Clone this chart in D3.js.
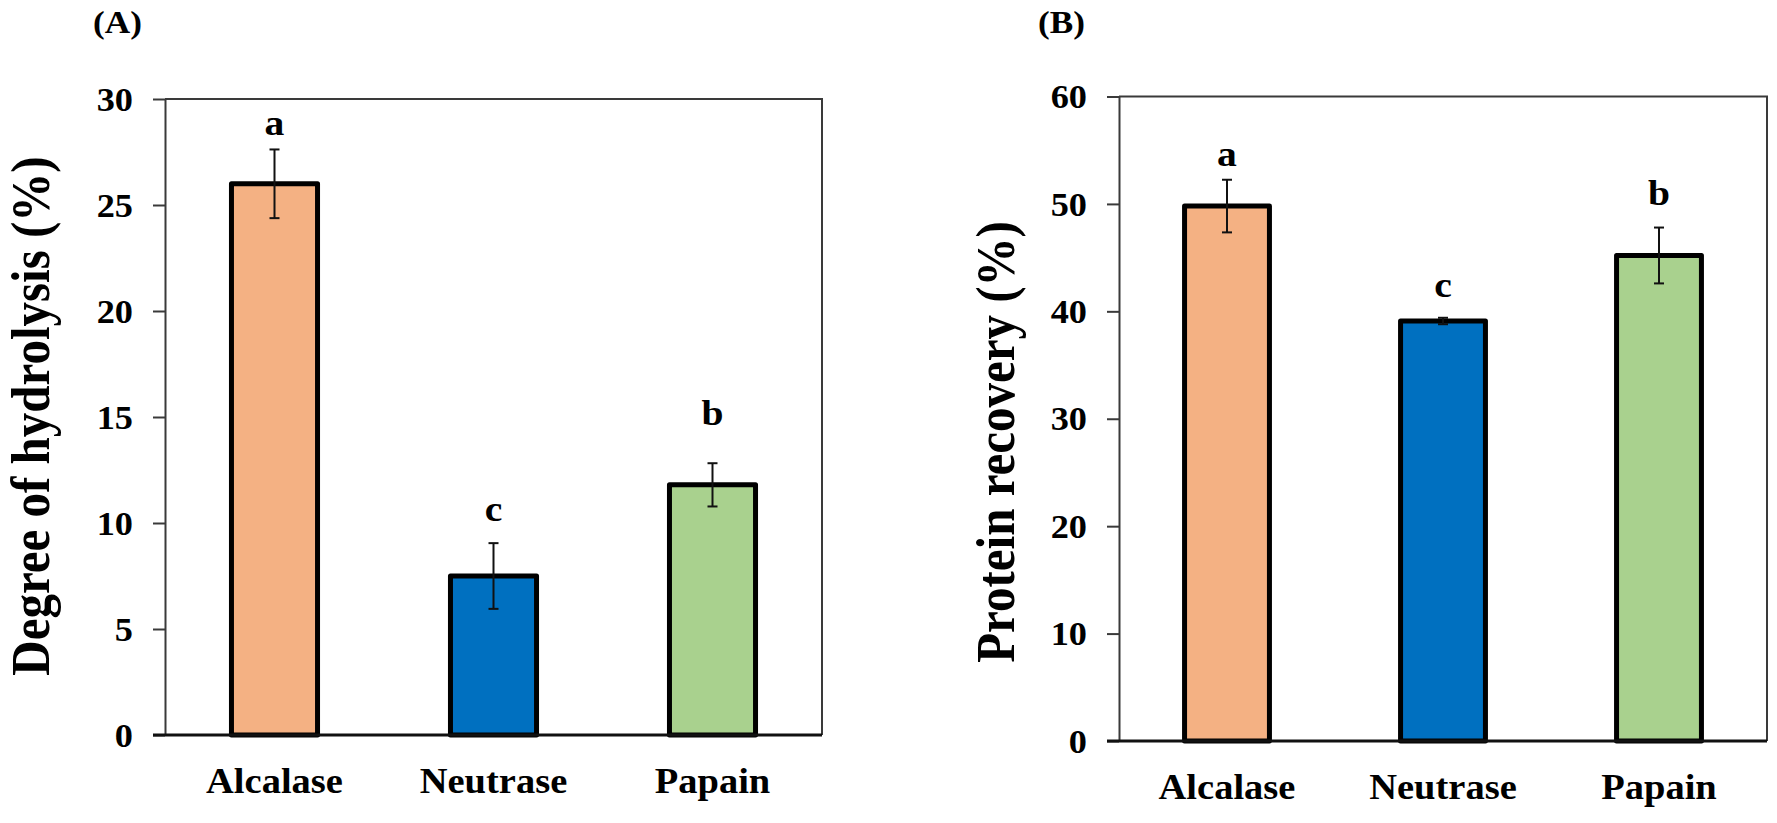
<!DOCTYPE html>
<html>
<head>
<meta charset="utf-8">
<script src="https://cdn.jsdelivr.net/npm/d3@7"></script>
<style>
  html, body { margin: 0; padding: 0; background: #fff; }
  svg { display: block; }
  text { font-family: "Liberation Serif", "Times New Roman", serif; font-weight: bold; fill: #000; }
</style>
</head>
<body>
<svg id="chart" width="1777" height="823"></svg>
<script>
// ---------------- data ----------------
const categories = ["Alcalase", "Neutrase", "Papain"];
const barColors = ["#F4B183", "#0070C0", "#A9D18E"];

// (A) Degree of hydrolysis (%)
const dhValues = [26.0, 7.5, 11.8];
const dhErrors = [1.62, 1.55, 1.02];
const dhLetters = ["a", "c", "b"];
const dhLetterAt = [28.3, 10.1, 14.6];
const dhTicks = [0, 5, 10, 15, 20, 25, 30];

// (B) Protein recovery (%)
const prValues = [49.8, 39.1, 45.2];
const prErrors = [2.45, 0.3, 2.6];
const prLetters = ["a", "c", "b"];
const prLetterAt = [53.5, 41.3, 49.9];
const prTicks = [0, 10, 20, 30, 40, 50, 60];

// ---------------- drawing ----------------
const svg = d3.select("#chart");
const STRETCH = 1.1;

function stretchText(sel) {
  sel.each(function () {
    const len = this.getComputedTextLength();
    d3.select(this).attr("textLength", len * STRETCH).attr("lengthAdjust", "spacingAndGlyphs");
  });
}

function panel(cfg) {
  const g = svg.append("g");
  const x = d3.scaleBand().domain(categories).range([cfg.left, cfg.right]).padding(0);
  const y = d3.scaleLinear().domain([0, cfg.ticks[cfg.ticks.length - 1]]).range([cfg.bottom, cfg.top]);
  const barW = x.bandwidth() * 0.393;

  // frame (top + right)
  g.append("path")
    .attr("d", `M${cfg.left},${y(cfg.ticks[cfg.ticks.length - 1])}H${cfg.right}V${cfg.bottom}`)
    .attr("fill", "none").attr("stroke", "#3a3a3a").attr("stroke-width", 2);

  // y axis
  const ya = g.append("g").attr("transform", `translate(${cfg.left},0)`)
    .call(d3.axisLeft(y).tickValues(cfg.ticks).tickSize(12).tickSizeOuter(0).tickPadding(20));
  ya.select(".domain").attr("stroke", "#3a3a3a").attr("stroke-width", 2);
  ya.selectAll(".tick line").attr("stroke", "#3a3a3a").attr("stroke-width", 2);
  ya.selectAll(".tick text")
    .attr("font-size", 33).attr("font-family", "Liberation Serif").attr("font-weight", "bold")
    .attr("fill", "#000").attr("dy", "0.34em")
    .call(stretchText);

  // bars
  const data = categories.map((c, i) => ({ c, v: cfg.values[i], e: cfg.errors[i], l: cfg.letters[i], la: cfg.letterAt[i], col: barColors[i] }));
  g.selectAll("rect.bar").data(data).join("rect")
    .attr("class", "bar")
    .attr("x", d => x(d.c) + x.bandwidth() / 2 - barW / 2)
    .attr("width", barW)
    .attr("y", d => y(d.v))
    .attr("height", d => y(0) - y(d.v))
    .attr("fill", d => d.col)
    .attr("stroke", "#000").attr("stroke-width", 5).attr("stroke-linejoin", "round");

  // x axis baseline
  g.append("line")
    .attr("x1", cfg.left - 12).attr("x2", cfg.right)
    .attr("y1", y(0)).attr("y2", y(0))
    .attr("stroke", "#111").attr("stroke-width", 3);

  // error bars
  const eb = g.selectAll("g.err").data(data).join("g").attr("class", "err");
  const cx = d => x(d.c) + x.bandwidth() / 2;
  eb.append("line").attr("x1", cx).attr("x2", cx)
    .attr("y1", d => y(d.v + d.e)).attr("y2", d => y(d.v - d.e))
    .attr("stroke", "#111").attr("stroke-width", 2);
  eb.append("line").attr("x1", d => cx(d) - 5).attr("x2", d => cx(d) + 5)
    .attr("y1", d => y(d.v + d.e)).attr("y2", d => y(d.v + d.e))
    .attr("stroke", "#111").attr("stroke-width", 2);
  eb.append("line").attr("x1", d => cx(d) - 5).attr("x2", d => cx(d) + 5)
    .attr("y1", d => y(d.v - d.e)).attr("y2", d => y(d.v - d.e))
    .attr("stroke", "#111").attr("stroke-width", 2);

  // significance letters
  g.selectAll("text.sig").data(data).join("text")
    .attr("class", "sig")
    .attr("x", cx).attr("y", d => y(d.la))
    .attr("text-anchor", "middle").attr("font-size", 36)
    .text(d => d.l)
    .call(stretchText);

  // category labels
  g.selectAll("text.cat").data(data).join("text")
    .attr("class", "cat")
    .attr("x", cx).attr("y", cfg.catY)
    .attr("text-anchor", "middle").attr("font-size", 35)
    .text(d => d.c)
    .call(stretchText);

  // y title
  g.append("text")
    .attr("transform", `translate(${cfg.titleX},${cfg.titleY}) scale(${STRETCH},1) rotate(-90)`)
    .attr("text-anchor", "middle").attr("font-size", 49)
    .text(cfg.title);

  // panel label
  g.append("text")
    .attr("x", cfg.labelX).attr("y", 33)
    .attr("font-size", 32)
    .text(cfg.label)
    .call(stretchText);
}

panel({
  left: 165, right: 822, bottom: 735, top: 99,
  values: dhValues, errors: dhErrors, letters: dhLetters, letterAt: dhLetterAt, ticks: dhTicks,
  title: "Degree of hydrolysis (%)", titleX: 49, titleY: 416,
  label: "(A)", labelX: 93, catY: 793
});

panel({
  left: 1119, right: 1767, bottom: 741, top: 96.5,
  values: prValues, errors: prErrors, letters: prLetters, letterAt: prLetterAt, ticks: prTicks,
  title: "Protein recovery (%)", titleX: 1014, titleY: 442,
  label: "(B)", labelX: 1038, catY: 799
});
</script>
</body>
</html>
